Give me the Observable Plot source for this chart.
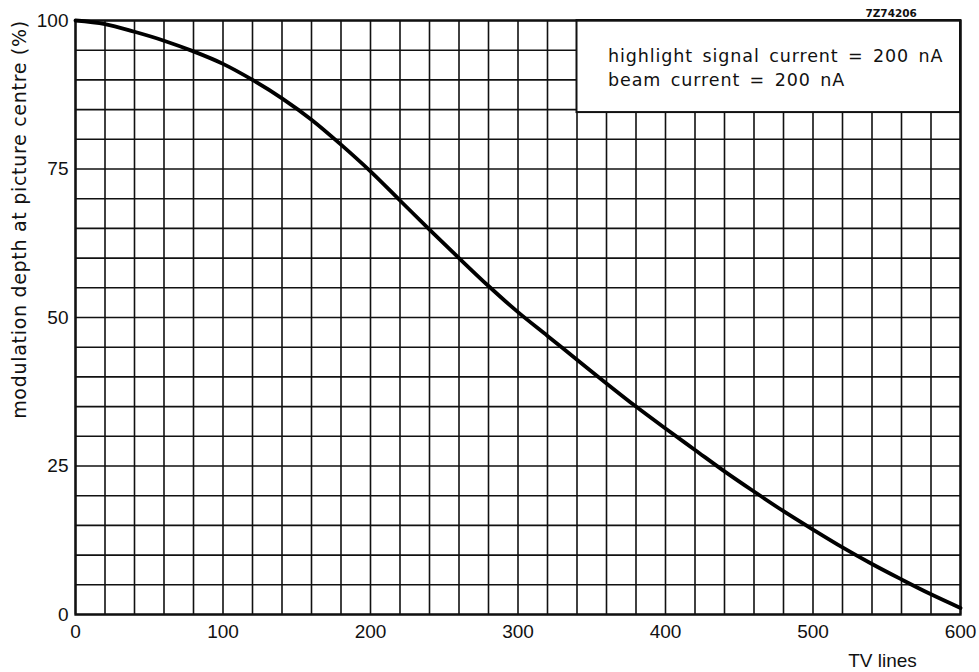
<!DOCTYPE html>
<html>
<head>
<meta charset="utf-8">
<script src="https://cdn.jsdelivr.net/npm/d3@7"></script>
<script src="https://cdn.jsdelivr.net/npm/@observablehq/plot@0.6"></script>
<style>
  html, body { margin: 0; padding: 0; background: #fff; }
  svg { display: block; }
  svg text[aria-label="box-text"] { letter-spacing: 0.9px; word-spacing: 3px; }
  svg text[aria-label="y-label"] { letter-spacing: 0.7px; }
</style>
</head>
<body>
<div id="chart"></div>
<script>
// Data (TV lines vs modulation depth, %)
const tvLines    = [0, 20, 40, 60, 80, 100, 120, 140, 160, 180, 200, 220, 240, 260, 280, 300, 320, 340, 360, 380, 400, 420, 440, 460, 480, 500, 520, 540, 560, 580, 600];
const modulation = [100, 99.4, 98.1, 96.6, 94.8, 92.7, 90.0, 86.9, 83.3, 79.1, 74.6, 69.7, 64.8, 60.0, 55.3, 50.9, 46.9, 42.9, 38.9, 35.0, 31.3, 27.7, 24.1, 20.7, 17.4, 14.3, 11.3, 8.5, 5.9, 3.4, 1.1];

const xTicks = [0, 100, 200, 300, 400, 500, 600];
const yTicks = [0, 25, 50, 75, 100];
const xGrid = d3.range(0, 601, 20);
const yGrid = d3.range(0, 101, 5);

const boxLine1 = "highlight signal current = 200 nA";
const boxLine2 = "beam current = 200 nA";
const figureCode = "7Z74206";
const xLabel = "TV lines";
const yLabel = "modulation depth at picture centre (%)";

const curve = tvLines.map((x, i) => ({x, y: modulation[i]}));
const tickFont = "'Liberation Sans', Arial, sans-serif";
const textFont = "'DejaVu Sans', sans-serif";

const chart = Plot.plot({
  width: 979,
  height: 672,
  marginLeft: 75,
  marginRight: 19,
  marginTop: 20,
  marginBottom: 58,
  style: {fontFamily: tickFont, background: "#fff", color: "#000"},
  x: {domain: [0, 600]},
  y: {domain: [0, 100]},
  marks: [
    Plot.ruleX(xGrid, {stroke: "#111", strokeWidth: 1.6}),
    Plot.ruleY(yGrid, {stroke: "#111", strokeWidth: 1.6}),
    Plot.rect([{x1: 340, x2: 600, y1: 84.5, y2: 100}], {x1: "x1", x2: "x2", y1: "y1", y2: "y2", fill: "#fff", stroke: "#111", strokeWidth: 2}),
    Plot.text([boxLine1], {x: 340, y: 100, dx: 31, dy: 36, text: d => d, textAnchor: "start", fontSize: 17.5, fontFamily: textFont, fill: "#111", ariaLabel: () => "box-text"}),
    Plot.text([boxLine2], {x: 340, y: 100, dx: 31, dy: 60, text: d => d, textAnchor: "start", fontSize: 17.5, fontFamily: textFont, fill: "#111", ariaLabel: () => "box-text"}),
    Plot.frame({stroke: "#111", strokeWidth: 2.4}),
    Plot.line(curve, {x: "x", y: "y", curve: "monotone-x", stroke: "#000", strokeWidth: 3.8}),
    Plot.text([figureCode], {x: 555, y: 100, dx: -3, dy: -7, text: d => d, fontSize: 10.5, fontWeight: "bold", fontFamily: textFont, fill: "#111"}),
    Plot.axisX(xTicks, {tickSize: 0, tickPadding: 10, fontSize: 19, fill: "#111", label: null}),
    Plot.axisY(yTicks, {tickSize: 0, tickPadding: 7, fontSize: 19, fill: "#111", label: null}),
    Plot.text([xLabel], {frameAnchor: "bottom-right", dx: -78, dy: 52, text: d => d, textAnchor: "middle", fontSize: 19, fontFamily: tickFont, fill: "#111"}),
    Plot.text([yLabel], {frameAnchor: "top-left", dx: -63, dy: 199, rotate: -90, text: d => d, textAnchor: "middle", fontSize: 19, fontFamily: textFont, fill: "#111", ariaLabel: () => "y-label"})
  ]
});
document.getElementById("chart").appendChild(chart);
</script>
</body>
</html>
